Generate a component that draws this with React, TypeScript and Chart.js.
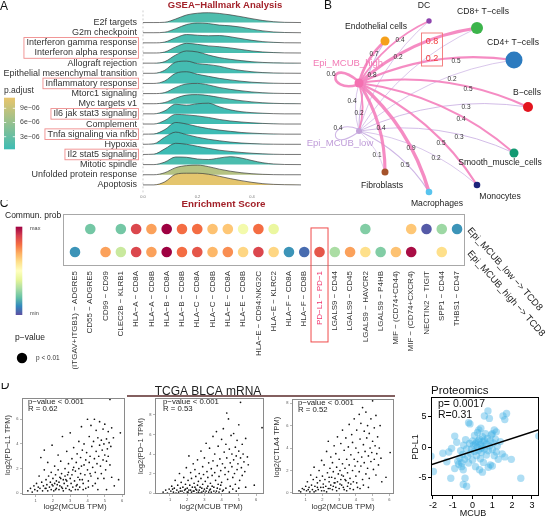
import React, { useEffect, useRef } from "react";
import { Chart, registerables } from "chart.js";

Chart.register(...registerables);

const FONT = "'Liberation Sans', Arial, Helvetica, sans-serif";
const DARK_RED = "#a3222a";

/* ---------- A: GSEA hallmark ridgeline ---------- */
const hallmarkSets = [
  "E2f targets", "G2m checkpoint", "Interferon gamma response", "Interferon alpha response",
  "Allograft rejection", "Epithelial mesenchymal transition", "Inflammatory response",
  "Mtorc1 signaling", "Myc targets v1", "Il6 jak stat3 signaling", "Complement",
  "Tnfa signaling via nfkb", "Hypoxia", "Il2 stat5 signaling", "Mitotic spindle",
  "Unfolded protein response", "Apoptosis",
];
const hallmarkPAdjust = [
  1.4e-6, 1.2e-6, 1.0e-6, 1.1e-6, 0.9e-6, 0.8e-6, 0.7e-6, 0.9e-6, 1.0e-6,
  0.5e-6, 0.6e-6, 0.3e-6, 0.4e-6, 0.35e-6, 1.2e-6, 7.97e-6, 1.09e-5,
];
const highlightedSets = [[2, 3], [6], [9], [11], [13]];
const esGrid = [0, 0.04, 0.08, 0.12, 0.16, 0.2, 0.24, 0.28, 0.32, 0.36, 0.4, 0.44, 0.48, 0.52, 0.58];
const ridgeHeights = [
  [0, 0, 0.03, 0.35, 0.75, 0.92, 0.97, 0.9, 0.76, 0.58, 0.38, 0.2, 0.08, 0.02, 0],
  [0, 0, 0.05, 0.4, 0.8, 0.95, 0.9, 0.75, 0.68, 0.55, 0.35, 0.18, 0.07, 0.02, 0],
  [0, 0, 0.08, 0.5, 0.82, 0.75, 0.7, 0.72, 0.6, 0.42, 0.25, 0.12, 0.05, 0.01, 0],
  [0, 0, 0.1, 0.6, 0.95, 0.85, 0.7, 0.62, 0.5, 0.35, 0.2, 0.1, 0.04, 0.01, 0],
  [0, 0, 0.15, 0.8, 1.2, 1.1, 0.8, 0.55, 0.38, 0.25, 0.14, 0.07, 0.03, 0.01, 0],
  [0, 0, 0.3, 1.1, 1.2, 0.95, 0.85, 0.7, 0.45, 0.28, 0.15, 0.07, 0.03, 0.01, 0],
  [0, 0, 0.25, 1.0, 1.15, 0.9, 0.7, 0.5, 0.35, 0.22, 0.12, 0.06, 0.02, 0, 0],
  [0, 0, 0.1, 0.6, 0.95, 1.0, 0.85, 0.6, 0.42, 0.28, 0.16, 0.08, 0.03, 0.01, 0],
  [0, 0, 0.12, 0.55, 0.85, 0.9, 0.8, 0.62, 0.45, 0.3, 0.18, 0.09, 0.04, 0.01, 0],
  [0, 0, 0.3, 0.95, 0.85, 1.0, 1.05, 0.7, 0.4, 0.22, 0.12, 0.06, 0.02, 0, 0],
  [0, 0, 0.35, 0.95, 0.9, 0.8, 0.65, 0.45, 0.3, 0.2, 0.12, 0.06, 0.02, 0, 0],
  [0, 0.02, 0.45, 1.15, 1.0, 0.75, 0.55, 0.4, 0.28, 0.17, 0.1, 0.05, 0.02, 0, 0],
  [0, 0.05, 0.7, 1.2, 0.95, 0.7, 0.5, 0.35, 0.22, 0.13, 0.07, 0.03, 0.01, 0, 0],
  [0, 0.03, 0.55, 1.1, 1.0, 0.8, 0.6, 0.42, 0.3, 0.2, 0.12, 0.06, 0.02, 0, 0],
  [0, 0, 0.25, 0.75, 0.72, 0.55, 0.5, 0.65, 0.78, 0.65, 0.4, 0.18, 0.06, 0.01, 0],
  [0, 0, 0.2, 0.7, 0.9, 0.95, 0.8, 0.55, 0.35, 0.2, 0.1, 0.04, 0.01, 0, 0],
  [0, 0, 0.3, 1.05, 1.15, 1.15, 1.05, 0.85, 0.62, 0.42, 0.25, 0.12, 0.05, 0.02, 0],
];
const esTicks = [0, 0.2, 0.4];
const pAdjustTicks = [3e-6, 6e-6, 9e-6];
const pAdjustLimits = [0.34e-6, 1.124e-5];
const pAdjustStops = ["#3dbcb4", "#e9c56c"];

/* ---------- B: cell–cell communication network ---------- */
const cellTypes = [
  "DC", "CD8+ T−cells", "CD4+ T−cells", "Endothelial cells", "Epi_MCUB_high", "Epi_MCUB_low",
  "B−cells", "Smooth_muscle_cells", "Monocytes", "Fibroblasts", "Macrophages",
];
const cellX = [159, 207, 244, 115, 89, 89, 258, 244, 207, 115, 159];
const cellY = [21, 28, 60, 41, 83, 131, 107, 153, 185, 172, 192];
const cellSize = [2.7, 6, 8.5, 4.5, 4.5, 3, 5, 4.5, 3.3, 3.5, 3.3];
const cellColors = [
  "#8e44ad", "#3cb44b", "#2c7bbf", "#f5a01a", "#f46fb0", "#c3a3d9",
  "#e3141e", "#139a72", "#1c237a", "#a5522a", "#58c4ee",
];
const cellLabelX = [154, 213, 243, 106, 78, 70, 257, 230, 230, 112, 167];
const cellLabelY = [6, 12, 43, 27, 63, 143, 93, 163, 197, 186, 204];
const commFrom = [4, 4, 4, 4, 4, 4, 4, 4, 4, 4, 4, 5, 5, 5, 5, 5, 5, 5, 5, 5, 5, 5];
const commTo = [4, 3, 0, 1, 2, 6, 7, 8, 10, 9, 5, 5, 4, 0, 3, 1, 2, 6, 7, 8, 10, 9];
const commProb = [0.6, 0.7, 0.4, 0.8, 0.5, 0.5, 0.4, 0.5, 0.9, 0.8, 0.4, 0.4, 0.2, 0.2, 0.4, 0.2, 0.2, 0.3, 0.3, 0.2, 0.5, 0.1];
const commLabelX = [61, 104, 130, 162, 186, 198, 191, 171, 141, 102, 82, 68, 89, 128, 111, 162, 182, 196, 189, 166, 135, 107];
const commLabelY = [74, 54, 40, 42, 61, 89, 119, 143, 148, 75, 101, 128, 113, 57, 128, 59, 79, 107, 137, 158, 165, 155];
const commHighlighted = [3, 15];

/* ---------- C: ligand–receptor dot plot ---------- */
const lrPairs = [
  "(ITGAV+ITGB1) − ADGRE5", "CD55 − ADGRE5", "CD99 − CD99", "CLEC2B − KLRB1",
  "HLA−A − CD8A", "HLA−A − CD8B", "HLA−B − CD8A", "HLA−B − CD8B", "HLA−C − CD8A",
  "HLA−C − CD8B", "HLA−E − CD8A", "HLA−E − CD8B", "HLA−E − CD94:NKG2C", "HLA−E − KLRC2",
  "HLA−F − CD8A", "HLA−F − CD8B", "PD−L1 − PD−1", "LGALS9 − CD44", "LGALS9 − CD45",
  "LGALS9 − HAVCR2", "LGALS9 − P4HB", "MIF − (CD74+CD44)", "MIF − (CD74+CXCR4)",
  "NECTIN2 − TIGIT", "SPP1 − CD44", "THBS1 − CD47",
];
const pairGroups = ["Epi_MCUB_high −> TCD8", "Epi_MCUB_low −> TCD8"];
const probLow = [null, 0.22, null, 0.22, 0.88, 0.72, 1.0, 0.8, 0.8, 0.66, 0.65, 0.45, 0.8, 0.42,
  null, null, null, null, null, 0.24, null, null, 0.65, 0.02, 0.28, 0.12];
const probHigh = [0.12, null, 0.72, 0.35, 0.88, 0.72, 1.0, 0.8, 0.85, 0.68, 0.75, 0.62, 0.88, 0.62,
  0.12, 0.05, 0.85, 0.3, 0.72, 0.6, 0.24, 0.66, 0.98, null, 0.6, null];
const spectralStops = ["#5e4fa2", "#3288bd", "#66c2a5", "#abdda4", "#e6f598", "#ffffbf",
  "#fee08b", "#fdae61", "#f46d43", "#d53e4f", "#9e0142"];

/* ---------- D: MCUB correlations ---------- */
const tcgaXTicks = [1, 2, 3, 4, 5, 6];
const pdl1Tpm = [
  0.55, 0.2, 0.7, 0.4, 0.8, 0.1, 0.9, 0.6, 0.95, 0.3, 1.05, 0.8, 1.1, 0.2, 1.15, 0.5, 1.2, 1.4, 1.25, 0.4,
  1.3, 2.9, 1.35, 0.9, 1.4, 0.2, 1.45, 0.6, 1.5, 1.9, 1.5, 3.5, 1.55, 0.4, 1.6, 1.1, 1.6, 0.4, 1.65, 0.7,
  1.7, 0.2, 1.7, 2.5, 1.75, 1.4, 1.8, 0.5, 1.85, 0.9, 1.9, 0.3, 1.9, 1.7, 1.95, 3.9, 1.95, 0.7, 2.0, 0.6,
  2.0, 1.2, 2.05, 0.2, 2.1, 0.8, 2.1, 2.2, 2.15, 1.5, 2.15, 0.3, 2.2, 0.4, 2.2, 1.0, 2.25, 0.7, 2.3, 1.9,
  2.3, 3.1, 2.35, 0.3, 2.35, 0.9, 2.4, 1.3, 2.4, 0.6, 2.45, 2.6, 2.45, 1.2, 2.5, 0.5, 2.5, 1.6, 2.55, 4.6,
  2.55, 0.4, 2.6, 0.2, 2.6, 1.1, 2.65, 0.8, 2.7, 2.0, 2.7, 1.4, 2.75, 0.4, 2.75, 1.1, 2.8, 3.4, 2.8, 1.0,
  2.85, 0.6, 2.85, 1.5, 2.9, 2.4, 2.9, 1.7, 2.95, 0.3, 3.0, 1.2, 3.0, 4.9, 3.05, 0.8, 3.05, 0.2, 3.1, 2.8,
  3.1, 1.5, 3.15, 0.5, 3.15, 1.9, 3.2, 2.1, 3.2, 3.7, 3.25, 1.0, 3.3, 0.3, 3.3, 1.8, 3.35, 2.5, 3.35, 0.6,
  3.4, 0.7, 3.4, 3.2, 3.45, 1.3, 3.45, 0.3, 3.5, 4.2, 3.5, 2.0, 3.55, 0.5, 3.55, 1.1, 3.6, 1.6, 3.6, 2.9,
  3.65, 5.4, 3.65, 2.2, 3.7, 1.1, 3.7, 3.5, 3.75, 0.8, 3.75, 0.3, 3.8, 2.3, 3.8, 4.0, 3.85, 1.5, 3.9, 2.7,
  3.9, 0.4, 3.95, 3.3, 4.0, 6.0, 4.0, 1.9, 4.05, 1.0, 4.05, 0.5, 4.1, 4.6, 4.1, 2.5, 4.15, 3.0, 4.15, 1.6,
  4.2, 1.4, 4.2, 5.5, 4.25, 3.8, 4.3, 2.1, 4.3, 0.6, 4.35, 4.2, 4.4, 6.0, 4.4, 2.8, 4.45, 1.7, 4.45, 0.8,
  4.5, 3.4, 4.5, 5.1, 4.55, 2.4, 4.6, 4.5, 4.6, 1.2, 4.6, 0.3, 4.65, 3.0, 4.7, 5.8, 4.7, 3.9, 4.75, 2.2,
  4.8, 4.3, 4.8, 1.6, 4.85, 3.5, 4.9, 5.2, 4.9, 2.7, 4.95, 4.0, 4.95, 1.2, 5.0, 3.1, 5.0, 5.6, 5.05, 1.9,
  5.1, 4.4, 5.1, 2.6, 5.1, 0.3, 5.15, 3.6, 5.2, 5.0, 5.2, 3.0, 5.25, 4.1, 5.3, 7.6, 5.3, 2.3, 5.35, 3.8,
  5.4, 5.3, 5.4, 1.3, 5.5, 4.5, 5.55, 0.6, 5.8, 1.1, 5.9, 4.9,
];
const pd1Tpm = [
  0.6, 0.1, 0.75, 0.3, 0.85, 0.0, 0.95, 0.4, 1.05, 0.2, 1.1, 0.7, 1.15, 0.4, 1.2, 0.1, 1.25, 0.5, 1.3, 1.3,
  1.35, 0.0, 1.4, 0.3, 1.45, 0.8, 1.5, 0.1, 1.55, 2.0, 1.6, 0.5, 1.6, 0.2, 1.65, 1.1, 1.7, 0.2, 1.75, 0.6,
  1.8, 1.6, 1.8, 0.0, 1.85, 0.3, 1.9, 0.9, 1.9, 0.4, 1.95, 2.6, 2.0, 0.1, 2.0, 0.5, 2.05, 1.3, 2.05, 0.1,
  2.1, 3.8, 2.1, 0.3, 2.15, 0.8, 2.2, 2.1, 2.2, 0.3, 2.25, 0.1, 2.25, 1.5, 2.3, 0.6, 2.35, 3.0, 2.35, 0.2,
  2.4, 0.2, 2.4, 1.0, 2.45, 2.4, 2.45, 0.6, 2.5, 0.4, 2.5, 1.7, 2.55, 0.0, 2.55, 0.3, 2.6, 0.8, 2.6, 3.4,
  2.65, 1.2, 2.65, 0.1, 2.7, 0.3, 2.7, 2.0, 2.75, 0.6, 2.75, 0.0, 2.8, 4.3, 2.8, 1.5, 2.85, 0.1, 2.85, 0.5,
  2.9, 2.7, 2.9, 0.9, 2.95, 1.9, 2.95, 0.2, 3.0, 0.4, 3.0, 3.6, 3.05, 1.2, 3.05, 0.0, 3.1, 0.2, 3.1, 5.1,
  3.15, 2.2, 3.15, 0.5, 3.2, 0.7, 3.2, 1.6, 3.25, 3.1, 3.25, 0.1, 3.3, 0.3, 3.3, 4.6, 3.35, 1.0, 3.35, 0.4,
  3.4, 2.5, 3.4, 0.1, 3.45, 1.8, 3.45, 0.7, 3.5, 5.8, 3.5, 3.3, 3.55, 0.6, 3.55, 0.2, 3.6, 2.1, 3.6, 4.0,
  3.65, 1.3, 3.65, 0.0, 3.7, 0.2, 3.7, 6.3, 3.75, 2.8, 3.75, 0.5, 3.8, 0.9, 3.8, 4.8, 3.85, 1.7, 3.85, 0.1,
  3.9, 3.5, 3.9, 0.4, 3.95, 2.3, 3.95, 0.8, 4.0, 5.5, 4.0, 1.1, 4.05, 3.0, 4.05, 0.2, 4.1, 6.6, 4.1, 0.3,
  4.15, 4.2, 4.2, 1.9, 4.2, 2.6, 4.25, 5.0, 4.25, 0.5, 4.3, 8.2, 4.3, 3.6, 4.35, 1.4, 4.4, 7.6, 4.4, 2.2,
  4.45, 4.5, 4.45, 0.1, 4.5, 3.1, 4.5, 0.7, 4.55, 5.9, 4.6, 2.7, 4.6, 4.0, 4.65, 1.6, 4.65, 0.4, 4.7, 3.4,
  4.7, 6.1, 4.75, 2.0, 4.8, 4.7, 4.8, 0.9, 4.85, 3.8, 4.85, 0.2, 4.9, 5.4, 4.9, 2.4, 4.95, 3.0, 5.0, 7.0,
  5.0, 4.3, 5.0, 0.5, 5.05, 1.3, 5.1, 9.3, 5.1, 3.6, 5.15, 2.6, 5.2, 5.0, 5.2, 1.8, 5.25, 4.0, 5.3, 3.2,
  5.35, 2.2, 5.4, 5.6, 5.4, 0.6, 5.5, 3.7, 5.55, 2.9, 5.9, 0.8, 6.35, 6.7,
];
const ctla4Tpm = [
  0.6, 0.2, 0.7, 0.1, 0.8, 0.4, 0.9, 0.3, 1.0, 0.6, 1.05, 0.2, 1.1, 1.0, 1.15, 0.3, 1.2, 0.5, 1.25, 0.1,
  1.3, 1.6, 1.35, 0.7, 1.4, 0.3, 1.45, 1.2, 1.5, 2.3, 1.5, 0.1, 1.55, 0.6, 1.6, 0.2, 1.65, 1.4, 1.7, 0.9,
  1.7, 0.5, 1.75, 0.3, 1.8, 2.0, 1.85, 1.1, 1.9, 0.5, 1.95, 2.9, 1.95, 0.2, 2.0, 1.5, 2.05, 0.8, 2.05, 0.5,
  2.1, 0.2, 2.1, 2.5, 2.15, 1.2, 2.2, 0.6, 2.25, 3.7, 2.25, 0.1, 2.3, 1.8, 2.35, 0.4, 2.35, 4.6, 2.4, 1.0,
  2.4, 1.4, 2.45, 2.2, 2.45, 0.4, 2.5, 0.7, 2.5, 3.2, 2.55, 1.4, 2.6, 0.3, 2.6, 2.7, 2.65, 1.9, 2.65, 0.6,
  2.7, 0.9, 2.7, 4.2, 2.75, 1.3, 2.75, 0.9, 2.8, 0.5, 2.8, 3.5, 2.85, 2.3, 2.85, 0.2, 2.9, 1.0, 2.9, 5.0,
  2.95, 1.7, 3.0, 0.4, 3.0, 3.0, 3.05, 2.0, 3.05, 0.8, 3.1, 1.2, 3.1, 4.4, 3.15, 0.7, 3.15, 1.6, 3.2, 2.6,
  3.2, 5.6, 3.25, 1.5, 3.25, 0.5, 3.3, 3.8, 3.3, 0.3, 3.35, 2.2, 3.35, 1.2, 3.4, 1.1, 3.4, 4.9, 3.45, 3.0,
  3.45, 0.2, 3.5, 1.8, 3.5, 0.6, 3.55, 4.1, 3.55, 0.9, 3.6, 2.5, 3.6, 6.1, 3.65, 1.3, 3.65, 0.4, 3.7, 3.4,
  3.7, 0.8, 3.75, 5.2, 3.8, 2.0, 3.8, 4.5, 3.85, 1.0, 3.85, 0.3, 3.9, 3.0, 3.9, 6.6, 3.95, 2.4, 4.0, 4.0,
  4.0, 1.5, 4.05, 5.6, 4.05, 0.9, 4.1, 2.8, 4.1, 0.5, 4.15, 3.6, 4.2, 7.0, 4.2, 1.9, 4.25, 4.8, 4.25, 0.4,
  4.3, 2.4, 4.3, 6.2, 4.35, 3.2, 4.4, 7.6, 4.4, 1.2, 4.45, 4.3, 4.45, 0.7, 4.5, 5.5, 4.5, 2.7, 4.55, 3.7,
  4.6, 7.2, 4.6, 1.7, 4.65, 4.9, 4.7, 2.2, 4.7, 6.0, 4.75, 3.3, 4.75, 0.5, 4.8, 5.3, 4.8, 1.3, 4.85, 4.0,
  4.9, 2.8, 4.9, 6.6, 4.95, 3.6, 5.0, 8.2, 5.0, 4.6, 5.05, 2.1, 5.1, 5.8, 5.1, 3.0, 5.15, 4.2, 5.2, 6.9,
  5.2, 1.6, 5.25, 3.5, 5.3, 5.0, 5.35, 2.5, 5.4, 4.0, 5.45, 6.0, 5.5, 3.1, 5.55, 1.0, 5.8, 1.4, 6.05, 3.6,
];
const proteomicsMcub = [
  -2.1, -1.5, -1.98, -4.0, -1.5, -1.0, -1.3, -2.4, -1.2, -0.8, -1.1, -5.1, -1.06, -0.2, -0.9, 1.8,
  -0.9, -3.5, -0.8, 0.8, -0.75, -2.3, -0.7, -2.8, -0.64, -1.8, -0.6, -0.6, -0.55, -2.6, -0.55, -3.2,
  -0.5, -1.2, -0.47, -3.7, -0.47, -6.1, -0.45, 0.3, -0.4, -2.0, -0.38, -5.1, -0.35, 1.2, -0.3, -6.4,
  -0.3, -0.3, -0.25, -1.5, -0.2, -2.6, -0.2, 4.0, -0.15, 0.6, -0.13, 3.8, -0.1, -1.0, -0.05, -0.3,
  0.0, 1.0, 0.0, -2.1, 0.05, 0.3, 0.1, -0.7, 0.1, 1.9, 0.15, -3.2, 0.15, 0.5, 0.2, 0.8, 0.2, -1.4,
  0.25, 2.4, 0.25, 0.0, 0.3, -0.5, 0.3, 1.0, 0.32, 2.8, 0.35, -3.7, 0.35, 1.3, 0.4, 0.4, 0.4, -1.9,
  0.42, 3.1, 0.45, -0.9, 0.45, -0.2, 0.5, 1.7, 0.5, 0.1, 0.5, -4.1, 0.55, -2.5, 0.55, 0.9, 0.6, 5.1,
  0.6, -0.3, 0.6, 1.1, 0.65, 2.2, 0.7, 0.5, 0.7, -1.3, 0.75, 1.4, 0.78, 5.9, 0.8, -0.6, 0.8, -3.3,
  0.85, 4.7, 0.85, 0.2, 0.9, -2.9, 0.9, 1.0, 0.95, 2.0, 1.0, -3.1, 1.0, 2.2, 1.0, -0.4, 1.05, 0.7,
  1.1, -1.4, 1.1, 2.8, 1.15, 1.3, 1.2, 2.5, 1.2, -0.8, 1.25, 0.2, 1.3, -2.0, 1.4, 0.9, 1.5, -1.1,
  1.54, 5.1, 1.63, 4.5, 1.63, -1.6, 1.72, 5.5, 1.96, -2.0, 2.44, -5.1, 3.35, 1.8,
];
const proteomicsFit = [-2.1, -2.9, 3.36, 2.85];

/* ---------- helpers ---------- */
type Label = {
  text: string; x: number; y: number; size: number; color?: string;
  bold?: boolean; align?: CanvasTextAlign; angle?: number;
};

function paintLabels(ctx: CanvasRenderingContext2D, labels: Label[]) {
  for (const l of labels) {
    ctx.save();
    ctx.translate(l.x, l.y);
    if (l.angle) ctx.rotate(l.angle);
    ctx.font = `${l.bold ? "bold " : ""}${l.size}px ${FONT}`;
    ctx.fillStyle = l.color ?? "#222";
    ctx.textAlign = l.align ?? "center";
    ctx.textBaseline = "middle";
    ctx.fillText(l.text, 0, 0);
    ctx.restore();
  }
}

function hexRgb(h: string) {
  const n = parseInt(h.slice(1), 16);
  return [(n >> 16) & 255, (n >> 8) & 255, n & 255];
}

function ramp(stops: string[], t: number) {
  const c = Math.min(1, Math.max(0, t)) * (stops.length - 1);
  const i = Math.min(stops.length - 2, Math.floor(c));
  const u = c - i;
  const a = hexRgb(stops[i]);
  const b = hexRgb(stops[i + 1]);
  const m = a.map((v, k) => Math.round(v + (b[k] - v) * u));
  return `rgb(${m[0]},${m[1]},${m[2]})`;
}

const padjColor = (p: number) =>
  ramp(pAdjustStops, (p - pAdjustLimits[0]) / (pAdjustLimits[1] - pAdjustLimits[0]));

function sci(p: number) {
  const [m, e] = p.toExponential(0).split("e");
  const ex = Number(e);
  return `${m}e${ex < 0 ? "−" : "+"}${String(Math.abs(ex)).padStart(2, "0")}`;
}

function toPoints(flat: number[]) {
  const out: { x: number; y: number }[] = [];
  for (let i = 0; i < flat.length; i += 2) out.push({ x: flat[i], y: flat[i + 1] });
  return out;
}

function baseOptions(padding: any) {
  return {
    responsive: false,
    animation: false,
    devicePixelRatio: 1,
    events: [],
    layout: { padding, autoPadding: false },
    plugins: { legend: { display: false }, tooltip: { enabled: false }, title: { display: false } },
  };
}

/* ---------- A ---------- */
const ridgeDecor = {
  id: "ridgeDecor",
  beforeDatasetsDraw(chart: any) {
    const { ctx, chartArea: a, scales } = chart;
    const x0 = scales.x.getPixelForValue(0);
    ctx.save();
    ctx.strokeStyle = "#c4c4c4";
    ctx.lineWidth = 0.8;
    ctx.setLineDash([2, 2]);
    ctx.beginPath();
    ctx.moveTo(x0, a.top - 1);
    ctx.lineTo(x0, a.bottom + 2);
    ctx.stroke();
    ctx.restore();
  },
  afterDraw(chart: any) {
    const { ctx, chartArea: a, scales } = chart;
    const n = hallmarkSets.length;
    ctx.save();
    ctx.font = `9px ${FONT}`;
    ctx.strokeStyle = "#f08c8c";
    ctx.lineWidth = 0.9;
    const textRight = a.left - 6;
    for (const g of highlightedSets) {
      const w = Math.max(...g.map((i) => ctx.measureText(hallmarkSets[i]).width));
      const top = scales.y.getPixelForValue(n - 1 - g[0]) - 5.3;
      const bottom = scales.y.getPixelForValue(n - 1 - g[g.length - 1]) + 5.3;
      ctx.strokeRect(textRight - w - 2.5, top, w + 4, bottom - top);
    }
    // p.adjust colour bar
    const barTop = 97.7, barBottom = 149.3, barL = 4, barW = 11;
    const grad = ctx.createLinearGradient(0, barBottom, 0, barTop);
    pAdjustStops.forEach((c, i) => grad.addColorStop(i / (pAdjustStops.length - 1), c));
    ctx.fillStyle = grad;
    ctx.fillRect(barL, barTop, barW, barBottom - barTop);
    const yOf = (p: number) =>
      barBottom - ((p - pAdjustLimits[0]) / (pAdjustLimits[1] - pAdjustLimits[0])) * (barBottom - barTop);
    ctx.strokeStyle = "#ffffff";
    ctx.lineWidth = 0.8;
    for (const p of pAdjustTicks) {
      const y = yOf(p);
      ctx.beginPath();
      ctx.moveTo(barL, y); ctx.lineTo(barL + 2.2, y);
      ctx.moveTo(barL + barW - 2.2, y); ctx.lineTo(barL + barW, y);
      ctx.stroke();
    }
    ctx.restore();
    paintLabels(ctx, [
      { text: "A", x: 4, y: 7, size: 12, color: "#111" },
      { text: "GSEA−Hallmark Analysis", x: 225, y: 5, size: 9.5, bold: true, color: DARK_RED },
      { text: "Enrichment Score", x: 223.5, y: 204.5, size: 9.8, bold: true, color: DARK_RED },
      { text: "p.adjust", x: 4, y: 90.7, size: 8.5, align: "left", color: "#333" },
      ...pAdjustTicks.map((p) => ({ text: sci(p), x: 20, y: yOf(p), size: 7, align: "left" as CanvasTextAlign, color: "#444" })),
    ]);
  },
};

function ridgeConfig() {
  const n = hallmarkSets.length;
  const datasets = hallmarkSets.map((name, i) => {
    const base = n - 1 - i;
    return {
      label: name,
      data: esGrid.map((x, j) => ({ x, y: base + ridgeHeights[i][j] })),
      fill: { value: base },
      backgroundColor: padjColor(hallmarkPAdjust[i]),
      borderColor: "#3c3c3c",
      borderWidth: 0.7,
      pointRadius: 0,
      cubicInterpolationMode: "monotone",
      order: n - 1 - i,
    };
  });
  return {
    type: "line",
    data: { datasets },
    options: {
      ...baseOptions({ top: 11.3, right: 1, left: 0, bottom: 0 }),
      scales: {
        x: {
          type: "linear", min: 0, max: 0.58,
          afterBuildTicks: (s: any) => { s.ticks = esTicks.map((v) => ({ value: v })); },
          afterFit: (s: any) => { s.height = 19.5; },
          grid: { display: false, drawTicks: false },
          border: { display: false },
          ticks: { font: { size: 4, family: FONT }, color: "#777", padding: 2, callback: (v: any) => Number(v).toFixed(1) },
        },
        y: {
          type: "linear", min: -0.75, max: 17.1,
          afterBuildTicks: (s: any) => { s.ticks = hallmarkSets.map((_, i) => ({ value: n - 1 - i })); },
          afterFit: (s: any) => { s.width = 143; },
          grid: { display: false, drawTicks: false },
          border: { display: false },
          ticks: { autoSkip: false, font: { size: 9, family: FONT }, color: "#333", padding: 6, callback: (v: any) => hallmarkSets[n - 1 - Number(v)] },
        },
      },
    },
    plugins: [ridgeDecor],
  };
}

/* ---------- B ---------- */
const HIGH = cellTypes.indexOf("Epi_MCUB_high");
const LOW = cellTypes.indexOf("Epi_MCUB_low");

const networkDecor = {
  id: "networkDecor",
  beforeDatasetsDraw(chart: any) {
    const { ctx, scales } = chart;
    const px = (i: number) => scales.x.getPixelForValue(cellX[i]);
    const py = (i: number) => scales.y.getPixelForValue(cellY[i]);
    ctx.save();
    ctx.lineCap = "round";
    for (const src of [LOW, HIGH]) {
      commFrom.forEach((s, e) => {
        if (s !== src) return;
        const t = commTo[e];
        const p = commProb[e];
        ctx.strokeStyle = s === HIGH ? "rgba(244,128,188,0.9)" : "rgba(194,164,222,0.8)";
        ctx.lineWidth = s === HIGH ? 0.6 + 3.2 * p : 0.5 + 1.4 * p;
        const sx = px(s), sy = py(s);
        ctx.beginPath();
        if (s === t) {
          const tilt = s === HIGH ? -8 : 5;
          ctx.moveTo(sx - 1, sy - 2);
          ctx.bezierCurveTo(sx - 30, sy - 18 + tilt, sx - 32, sy + 18 + tilt, sx - 2, sy + 2);
        } else {
          const tx = px(t), ty = py(t);
          const dx = tx - sx, dy = ty - sy;
          const cx = (sx + tx) / 2 + 0.15 * dy;
          const cy = (sy + ty) / 2 - 0.15 * dx;
          ctx.moveTo(sx, sy);
          ctx.quadraticCurveTo(cx, cy, tx, ty);
        }
        ctx.stroke();
      });
    }
    ctx.restore();
  },
  afterDatasetsDraw(chart: any) {
    const { ctx, scales } = chart;
    const X = (v: number) => scales.x.getPixelForValue(v);
    const Y = (v: number) => scales.y.getPixelForValue(v);
    const labels: Label[] = [{ text: "B", x: 58, y: 6, size: 12, color: "#111" }];
    cellTypes.forEach((name, i) => {
      labels.push({
        text: name, x: X(cellLabelX[i]), y: Y(cellLabelY[i]),
        size: i === HIGH || i === LOW ? 9.5 : 8.6,
        color: i === HIGH ? "#f27ab5" : i === LOW ? "#bf9bd8" : "#222",
      });
    });
    commProb.forEach((p, e) => {
      const red = commHighlighted.includes(e);
      labels.push({
        text: p.toFixed(1), x: X(commLabelX[e]), y: Y(commLabelY[e]),
        size: red ? 9 : 6.5, color: red ? "#f03c3c" : "#333",
      });
    });
    paintLabels(ctx, labels);
    // box around the highlighted pair of probabilities
    const hx = commHighlighted.map((e) => X(commLabelX[e]));
    const hy = commHighlighted.map((e) => Y(commLabelY[e]));
    ctx.save();
    ctx.strokeStyle = "#f27474";
    ctx.lineWidth = 0.9;
    ctx.strokeRect(Math.min(...hx) - 10.5, Math.min(...hy) - 9, 21, Math.max(...hy) - Math.min(...hy) + 16);
    ctx.restore();
  },
};

function networkConfig() {
  return {
    type: "scatter",
    data: {
      datasets: [{
        data: cellX.map((x, i) => ({ x, y: cellY[i] })),
        pointRadius: cellSize,
        pointBackgroundColor: cellColors,
        pointBorderWidth: 0,
      }],
    },
    options: {
      ...baseOptions(0),
      scales: {
        x: { type: "linear", min: 0, max: 276, display: false },
        y: { type: "linear", min: 0, max: 210, reverse: true, display: false },
      },
    },
    plugins: [networkDecor],
  };
}

/* ---------- C ---------- */
const highlightPair = lrPairs.indexOf("PD−L1 − PD−1");

const dotDecor = {
  id: "dotDecor",
  afterDraw(chart: any) {
    const { ctx, chartArea: a, scales } = chart;
    ctx.save();
    ctx.strokeStyle = "#a8a8a8";
    ctx.lineWidth = 1;
    ctx.strokeRect(Math.round(a.left) + 0.5, Math.round(a.top) + 0.5, Math.round(a.width) - 1, Math.round(a.height) - 1);
    const hx = scales.x.getPixelForValue(highlightPair + 1);
    ctx.strokeStyle = "#f04b4b";
    ctx.strokeRect(hx - 8.5, scales.y.getPixelForValue(2) - 1, 17, 114);
    // communication probability colour bar
    const barTop = 26.7, barBottom = 115, barL = 15.7, barW = 6.6;
    const grad = ctx.createLinearGradient(0, barBottom, 0, barTop);
    spectralStops.forEach((c, i) => grad.addColorStop(i / (spectralStops.length - 1), c));
    ctx.fillStyle = grad;
    ctx.fillRect(barL, barTop, barW, barBottom - barTop);
    ctx.fillStyle = "#000";
    ctx.beginPath();
    ctx.arc(22, 158, 5.2, 0, Math.PI * 2);
    ctx.fill();
    ctx.restore();
    const labels: Label[] = [
      { text: "C", x: 4, y: 4, size: 12, color: "#111" },
      { text: "Commun. prob", x: 5, y: 16, size: 8.5, align: "left" },
      { text: "max", x: 30, y: 28, size: 5.5, align: "left", color: "#444" },
      { text: "min", x: 30, y: 113, size: 5.5, align: "left", color: "#444" },
      { text: "p−value", x: 15, y: 138, size: 8.5, align: "left" },
      { text: "p < 0.01", x: 36, y: 158, size: 6.5, align: "left", color: "#333" },
    ];
    pairGroups.forEach((g, i) => {
      labels.push({
        text: g, x: a.right + 4, y: scales.y.getPixelForValue(i + 1), size: 9.5,
        align: "left", angle: 0.843, color: "#222",
      });
    });
    paintLabels(ctx, labels);
  },
};

function dotConfig() {
  const row = (probs: (number | null)[], y: number) => {
    const idx = probs.map((p, i) => (p === null ? -1 : i)).filter((i) => i >= 0);
    return {
      data: idx.map((i) => ({ x: i + 1, y })),
      pointRadius: 5.3,
      pointBackgroundColor: idx.map((i) => ramp(spectralStops, probs[i] as number)),
      pointBorderWidth: 0,
    };
  };
  return {
    type: "scatter",
    data: { datasets: [row(probHigh, 1), row(probLow, 2)] },
    options: {
      ...baseOptions({ left: 63, right: 81, top: 14, bottom: 0 }),
      scales: {
        x: {
          type: "linear", min: 0.215, max: 26.52,
          afterBuildTicks: (s: any) => { s.ticks = lrPairs.map((_, i) => ({ value: i + 1 })); },
          afterFit: (s: any) => { s.height = 119; },
          grid: { display: false, drawTicks: false },
          border: { display: false },
          ticks: {
            autoSkip: false, minRotation: 90, maxRotation: 90, padding: 5,
            font: { size: 8, family: FONT },
            color: (c: any) => (c.index === highlightPair ? "#f0356e" : "#333"),
            callback: (v: any) => lrPairs[Number(v) - 1],
          },
        },
        y: { type: "linear", min: 0.39, max: 2.65, display: false },
      },
    },
    plugins: [dotDecor],
  };
}

/* ---------- D ---------- */
function framePlugin(color: string, labels: Label[], extra?: (ctx: CanvasRenderingContext2D) => void) {
  return {
    id: "frame",
    afterDraw(chart: any) {
      const { ctx, chartArea: a } = chart;
      ctx.save();
      ctx.strokeStyle = color;
      ctx.lineWidth = 1;
      ctx.strokeRect(Math.round(a.left) + 0.5, Math.round(a.top) + 0.5, Math.round(a.width) - 1, Math.round(a.height) - 1);
      if (extra) extra(ctx);
      ctx.restore();
      paintLabels(ctx, labels);
    },
  };
}

function tcgaConfig(
  flat: number[], xr: number[], yr: number[], yTicks: number[],
  padding: any, yWidth: number, xHeight: number, labels: Label[],
  extra?: (ctx: CanvasRenderingContext2D) => void,
) {
  const tickGrid = { drawOnChartArea: false, drawTicks: true, tickLength: 2, color: "#888", lineWidth: 0.6 };
  const tickFont = { size: 4, family: FONT };
  return {
    type: "scatter",
    data: { datasets: [{ data: toPoints(flat), pointRadius: 0.85, pointBackgroundColor: "#111", pointBorderWidth: 0 }] },
    options: {
      ...baseOptions(padding),
      scales: {
        x: {
          type: "linear", min: xr[0], max: xr[1],
          afterBuildTicks: (s: any) => { s.ticks = tcgaXTicks.map((v) => ({ value: v })); },
          afterFit: (s: any) => { s.height = xHeight; },
          grid: tickGrid, border: { display: false },
          ticks: { font: tickFont, color: "#555", padding: 1.5 },
        },
        y: {
          type: "linear", min: yr[0], max: yr[1],
          afterBuildTicks: (s: any) => { s.ticks = yTicks.map((v) => ({ value: v })); },
          afterFit: (s: any) => { s.width = yWidth; },
          grid: tickGrid, border: { display: false },
          ticks: { font: tickFont, color: "#555", padding: 1.5 },
        },
      },
    },
    plugins: [framePlugin("#8a8a8a", labels, extra)],
  };
}

const statLabels = (x: number, y: number, r: string): Label[] => [
  { text: "p−value < 0.001", x, y, size: 7.8, align: "left" },
  { text: `R = ${r}`, x, y: y + 7, size: 7.8, align: "left" },
];

function pdl1Config() {
  return tcgaConfig(pdl1Tpm, [0.21, 6.17], [-0.14, 7.72], [0, 2, 4, 6],
    { top: 15, right: 275, left: 0, bottom: 0 }, 22, 24,
    [
      { text: "D", x: 5, y: 3, size: 12, color: "#111" },
      { text: "TCGA BLCA mRNA", x: 208, y: 8.7, size: 12 },
      ...statLabels(28, 19, "0.62"),
      { text: "log2(MCUB TPM)", x: 75, y: 124, size: 8, color: "#333" },
      { text: "log2(PD−L1 TPM)", x: 8, y: 62, size: 7.5, angle: -Math.PI / 2, color: "#333" },
    ],
    (ctx) => {
      ctx.strokeStyle = "#5a2a2a";
      ctx.lineWidth = 1.3;
      ctx.beginPath();
      ctx.moveTo(127, 13);
      ctx.lineTo(395, 13);
      ctx.stroke();
    });
}

function pd1Config() {
  return tcgaConfig(pd1Tpm, [0.128, 6.465], [-0.1, 9.74], [0, 2, 4, 6, 8],
    { top: 15, right: 6, left: 0, bottom: 0 }, 20, 25,
    [
      ...statLabels(28, 19, "0.53"),
      { text: "log2(MCUB TPM)", x: 76, y: 124, size: 8, color: "#333" },
      { text: "log2(PD−1 TPM)", x: 6, y: 63, size: 7.5, angle: -Math.PI / 2, color: "#333" },
    ]);
}

function ctla4Config() {
  return tcgaConfig(ctla4Tpm, [0.18, 6.28], [-0.09, 8.36], [0, 2, 4, 6, 8],
    { top: 16, right: 11, left: 0, bottom: 0 }, 22, 25,
    [
      ...statLabels(28, 20, "0.52"),
      { text: "log2(MCUB TPM)", x: 73, y: 124, size: 8, color: "#333" },
      { text: "log2(CTLA4 TPM)", x: 7, y: 64, size: 7.5, angle: -Math.PI / 2, color: "#333" },
    ]);
}

function proteomicsConfig() {
  const grid = { drawOnChartArea: false, drawTicks: true, tickLength: 3, color: "#000", lineWidth: 1 };
  const font = { size: 9, family: FONT };
  return {
    type: "scatter",
    data: {
      datasets: [
        { data: toPoints(proteomicsFit), showLine: true, borderColor: "#000", borderWidth: 1.6, pointRadius: 0 },
        { data: toPoints(proteomicsMcub), pointRadius: 3.7, pointBackgroundColor: "rgba(64,176,228,0.42)", pointBorderWidth: 0 },
      ],
    },
    options: {
      ...baseOptions({ top: 14, right: 7, left: 0, bottom: 0 }),
      scales: {
        x: {
          type: "linear", min: -2.1, max: 3.36,
          afterBuildTicks: (s: any) => { s.ticks = [-2, -1, 0, 1, 2, 3].map((v) => ({ value: v })); },
          afterFit: (s: any) => { s.height = 23; },
          grid, border: { display: false },
          ticks: { font, color: "#000", padding: 1.5 },
        },
        y: {
          type: "linear", min: -8.0, max: 8.2,
          afterBuildTicks: (s: any) => { s.ticks = [-5, 0, 5].map((v) => ({ value: v })); },
          afterFit: (s: any) => { s.width = 26; },
          grid, border: { display: false },
          ticks: { font, color: "#000", padding: 1.5 },
        },
      },
    },
    plugins: [framePlugin("#000", [
      { text: "Proteomics", x: 26, y: 7.5, size: 11.5, align: "left", color: "#111" },
      { text: "p= 0.0017", x: 33, y: 21, size: 10.5, align: "left", color: "#111" },
      { text: "R=0.31", x: 33, y: 32, size: 10.5, align: "left", color: "#111" },
      { text: "MCUB", x: 68, y: 131, size: 9, color: "#111" },
      { text: "PD-L1", x: 11, y: 64, size: 9, angle: -Math.PI / 2, color: "#111" },
    ])],
  };
}

/* ---------- page ---------- */
function ChartPanel(props: { left: number; top: number; width: number; height: number; build: () => any }) {
  const { left, top, width, height, build } = props;
  const ref = useRef<HTMLCanvasElement | null>(null);
  useEffect(() => {
    const canvas = ref.current;
    if (!canvas) return;
    const chart = new Chart(canvas, build());
    return () => chart.destroy();
  }, [build]);
  return (
    <canvas
      ref={ref}
      width={width}
      height={height}
      style={{ position: "absolute", left, top, width, height, display: "block" }}
    />
  );
}

export default function App() {
  return (
    <div style={{ position: "fixed", left: 0, top: 0, width: 546, height: 519, background: "#fff", overflow: "hidden" }}>
      <ChartPanel left={0} top={0} width={302} height={212} build={ridgeConfig} />
      <ChartPanel left={270} top={0} width={276} height={210} build={networkConfig} />
      <ChartPanel left={0} top={200} width={546} height={185} build={dotConfig} />
      <ChartPanel left={0} top={383} width={400} height={136} build={pdl1Config} />
      <ChartPanel left={135} top={383} width={135} height={136} build={pd1Config} />
      <ChartPanel left={270} top={383} width={135} height={136} build={ctla4Config} />
      <ChartPanel left={405} top={383} width={141} height={136} build={proteomicsConfig} />
    </div>
  );
}
